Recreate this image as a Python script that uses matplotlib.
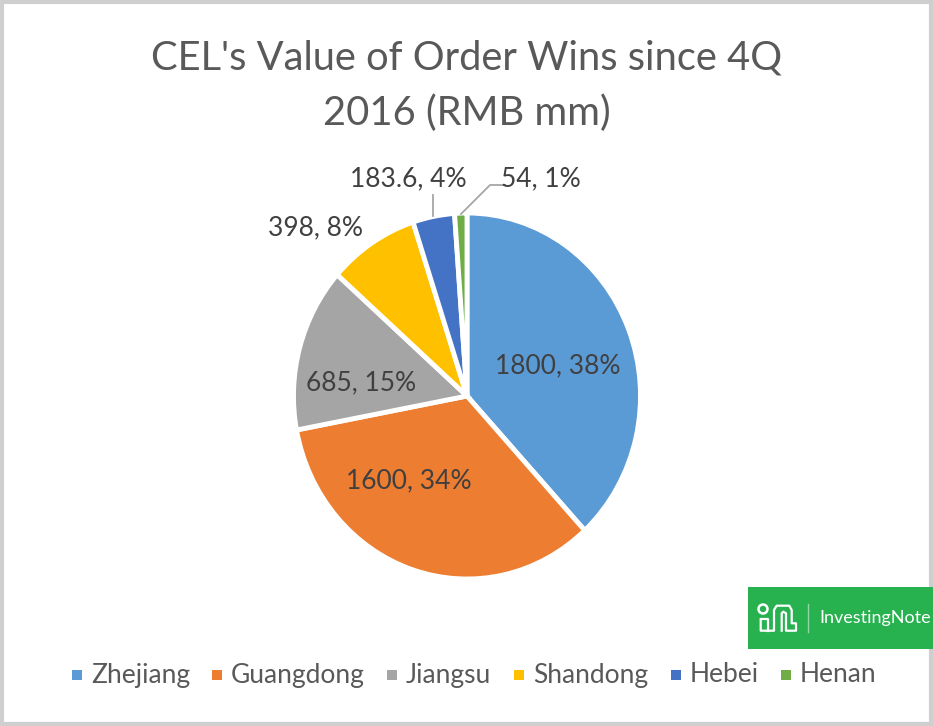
import matplotlib
matplotlib.use("Agg")
import matplotlib.pyplot as plt
from matplotlib.patches import Rectangle, Circle
from matplotlib.lines import Line2D

categories = ["Zhejiang", "Guangdong", "Jiangsu", "Shandong", "Hebei", "Henan"]
values = [1800, 1600, 685, 398, 183.6, 54]
value_labels = ["1800, 38%", "1600, 34%", "685, 15%", "398, 8%", "183.6, 4%", "54, 1%"]
colors = ["#5B9BD5", "#ED7D31", "#A5A5A5", "#FFC000", "#4472C4", "#70AD47"]
title_lines = ["CEL's Value of Order Wins since 4Q", "2016 (RMB mm)"]

W, H = 933, 726
plt.rcParams['font.family'] = ['Lato', 'DejaVu Sans']
fig = plt.figure(figsize=(W/100, H/100), dpi=100, facecolor="white")

cx, cy, rx, ry = 467, 396, 173.5, 183
ax = fig.add_axes([(cx-rx)/W, 1-(cy+ry)/H, 2*rx/W, 2*ry/H])
ax.pie(values, colors=colors, startangle=90, counterclock=False, radius=1,
       wedgeprops=dict(ec="white", lw=3.5))
ax.set_aspect("auto")
ax.set_xlim(-1, 1); ax.set_ylim(-1, 1); ax.axis("off")

bg = fig.add_axes([0, 0, 1, 1], zorder=5); bg.set_xlim(0, W); bg.set_ylim(H, 0); bg.axis("off")
bg.patch.set_alpha(0)
bg.add_patch(Rectangle((1.5, 1.5), W-4, H-4, fill=False, ec="#cfcfcf", lw=3))

for y, t in zip([58, 113], title_lines):
    bg.text(467, y, t, ha="center", va="center", fontsize=28.7, color="#595959")

lab_pos = [(558, 366), (409, 481), (361, 383), (315, 228), (408, 179), (541, 179)]
for (x, y), t in zip(lab_pos, value_labels):
    bg.text(x, y, t, ha="center", va="center", fontsize=19, color="#404040")
bg.add_line(Line2D([433, 433], [195, 216], color="#a6a6a6", lw=1.3))
bg.add_line(Line2D([505, 490, 461], [185, 185, 214], color="#a6a6a6", lw=1.3))

leg_x = [77, 217, 392, 519, 676, 786]
for x, c, t in zip(leg_x, colors, categories):
    bg.add_patch(Rectangle((x-5, 670), 10, 10, fc=c, ec="none"))
    bg.text(x+14, 675, t, ha="left", va="center", fontsize=19, color="#595959")

green = "#27b24f"
bg.add_patch(Rectangle((748, 587), 185, 62, fc=green, ec="none"))
bg.add_line(Line2D([808, 808], [604, 632], color="#8fd8a5", lw=1))
bg.text(819, 618, "InvestingNote", ha="left", va="center", fontsize=13, color="white")
bg.add_patch(Circle((763, 609), 4.5, fc="none", ec="white", lw=1.8))
bg.add_line(Line2D([760.7, 768.3, 768.3], [619.3, 619.3, 630.7], color="white", lw=1.6))
bg.add_line(Line2D([760.7, 760.7, 774, 774, 776.7, 789.3, 791.7, 791.7, 796, 796, 786, 786, 783.3, 781.7, 781.7],
                   [619.3, 630.7, 630.7, 610, 605.7, 605.7, 610, 623.3, 623.3, 630.7, 630.7, 613.3, 611.7, 613.3, 630.7],
                   color="white", lw=1.6))

fig.savefig("out.png", dpi=100)
